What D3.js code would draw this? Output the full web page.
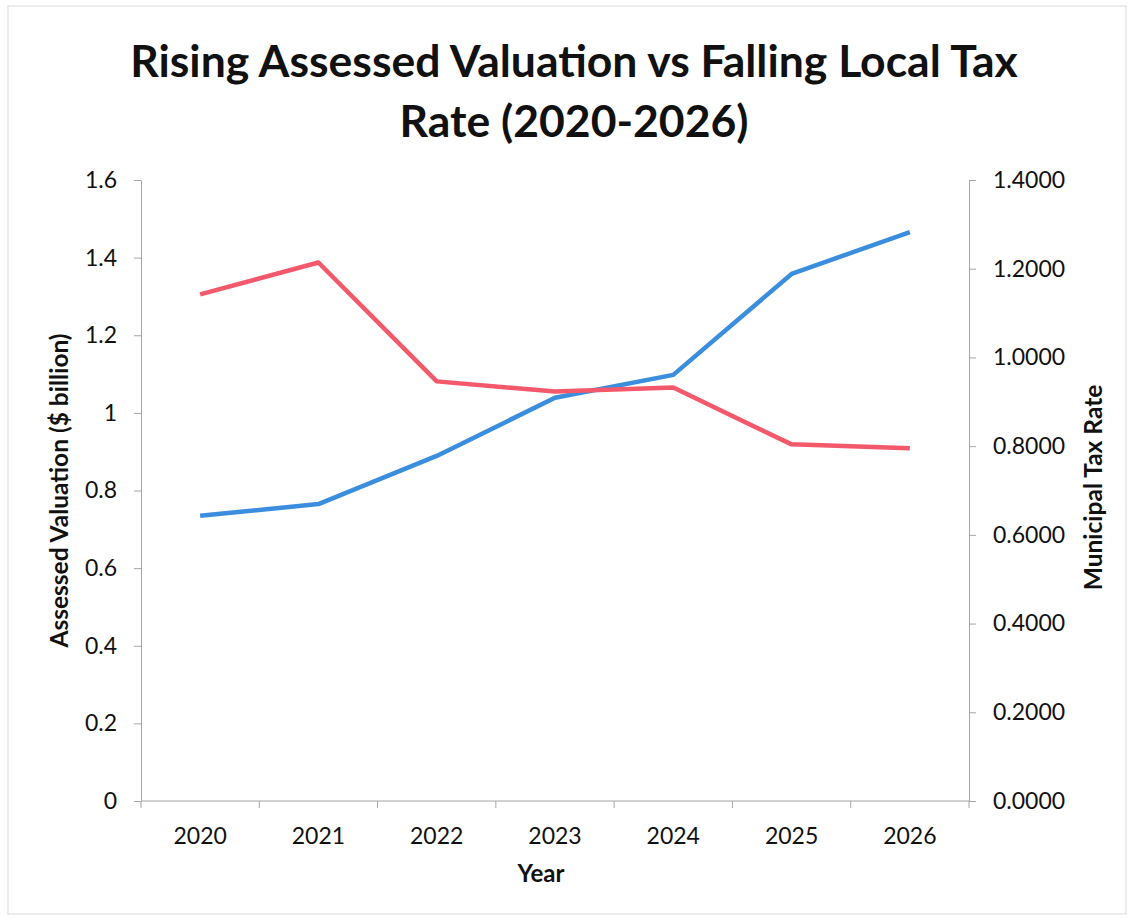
<!DOCTYPE html>
<html>
<head>
<meta charset="utf-8">
<script src="https://cdn.jsdelivr.net/npm/d3@7"></script>
<style>
  body { margin: 0; background: #fff; }
  .axis path, .axis line { stroke: #a6a6a6; }
  .axis text { font-family: Lato, "Open Sans", sans-serif; font-size: 23px; fill: #111; }
</style>
</head>
<body>
<div id="chart"></div>
<script>
var years = ["2020", "2021", "2022", "2023", "2024", "2025", "2026"];
var valuation = [0.735, 0.765, 0.889, 1.039, 1.098, 1.358, 1.466];
var taxRate = [1.142, 1.214, 0.946, 0.923, 0.932, 0.804, 0.795];
var leftTicks = [0, 0.2, 0.4, 0.6, 0.8, 1, 1.2, 1.4, 1.6];
var rightTicks = [0, 0.2, 0.4, 0.6, 0.8, 1.0, 1.2, 1.4];

var W = 1132, H = 918;
var margin = {top: 180, right: 163, bottom: 117, left: 141};
var width = W - margin.left - margin.right;
var height = H - margin.top - margin.bottom;

var svg = d3.select("#chart").append("svg")
    .attr("width", W)
    .attr("height", H);

svg.append("rect")
    .attr("x", 8).attr("y", 6)
    .attr("width", W - 14).attr("height", H - 10)
    .attr("fill", "none")
    .attr("stroke", "#d9d9d9");

var g = svg.append("g")
    .attr("transform", "translate(" + margin.left + "," + margin.top + ")");

var x = d3.scaleBand().domain(years).range([0, width]).padding(0);
var yL = d3.scaleLinear().domain([0, 1.6]).range([height, 0]);
var yR = d3.scaleLinear().domain([0, 1.4]).range([height, 0]);

// x axis: ticks sit on category boundaries
var xAxis = g.append("g")
    .attr("class", "axis")
    .attr("transform", "translate(0," + height + ")")
    .call(d3.axisBottom(x).tickSize(0).tickPadding(27));
xAxis.select(".domain").remove();
xAxis.append("line").attr("x1", 0).attr("x2", width).attr("stroke", "#a6a6a6");
xAxis.selectAll(".bound")
    .data(d3.range(years.length + 1))
    .enter().append("line")
    .attr("class", "bound")
    .attr("x1", function(i) { return i * x.bandwidth(); })
    .attr("x2", function(i) { return i * x.bandwidth(); })
    .attr("y1", 0).attr("y2", 7)
    .attr("stroke", "#a6a6a6");

var leftAxis = g.append("g")
    .attr("class", "axis")
    .call(d3.axisLeft(yL).tickValues(leftTicks).tickSize(7).tickSizeOuter(0).tickPadding(17)
        .tickFormat(function(d) { return d3.format("")(+d.toFixed(1)); }));

var rightAxis = g.append("g")
    .attr("class", "axis")
    .attr("transform", "translate(" + width + ",0)")
    .call(d3.axisRight(yR).tickValues(rightTicks).tickSize(7).tickSizeOuter(0).tickPadding(17)
        .tickFormat(d3.format(".4f")));

var cx = function(d, i) { return x(years[i]) + x.bandwidth() / 2; };

g.append("path")
    .datum(valuation)
    .attr("fill", "none")
    .attr("stroke", "#3b8ede")
    .attr("stroke-width", 4.5)
    .attr("stroke-linejoin", "round")
    .attr("d", d3.line().x(cx).y(function(d) { return yL(d); }));

g.append("path")
    .datum(taxRate)
    .attr("fill", "none")
    .attr("stroke", "#f4586b")
    .attr("stroke-width", 4.5)
    .attr("stroke-linejoin", "round")
    .attr("d", d3.line().x(cx).y(function(d) { return yR(d); }));

// titles
var title = svg.append("text")
    .attr("text-anchor", "middle")
    .attr("font-family", "Lato, 'Open Sans', sans-serif")
    .attr("font-weight", "bold")
    .attr("font-size", 44.5)
    .attr("fill", "#111");
title.append("tspan").attr("x", 574).attr("y", 77).text("Rising Assessed Valuation vs Falling Local Tax");
title.append("tspan").attr("x", 574).attr("y", 137).text("Rate (2020-2026)");

svg.append("text")
    .attr("transform", "translate(68," + (margin.top + height / 2) + ") rotate(-90)")
    .attr("text-anchor", "middle")
    .attr("font-family", "Lato, 'Open Sans', sans-serif")
    .attr("font-weight", "bold")
    .attr("font-size", 24.5)
    .attr("fill", "#111")
    .text("Assessed Valuation ($ billion)");

svg.append("text")
    .attr("transform", "translate(1102," + (margin.top + height / 2 - 3) + ") rotate(-90)")
    .attr("text-anchor", "middle")
    .attr("font-family", "Lato, 'Open Sans', sans-serif")
    .attr("font-weight", "bold")
    .attr("font-size", 24.5)
    .attr("fill", "#111")
    .text("Municipal Tax Rate");

svg.append("text")
    .attr("x", margin.left + width / 2 - 14)
    .attr("y", 882)
    .attr("text-anchor", "middle")
    .attr("font-family", "Lato, 'Open Sans', sans-serif")
    .attr("font-weight", "bold")
    .attr("font-size", 24)
    .attr("fill", "#111")
    .text("Year");
</script>
</body>
</html>
